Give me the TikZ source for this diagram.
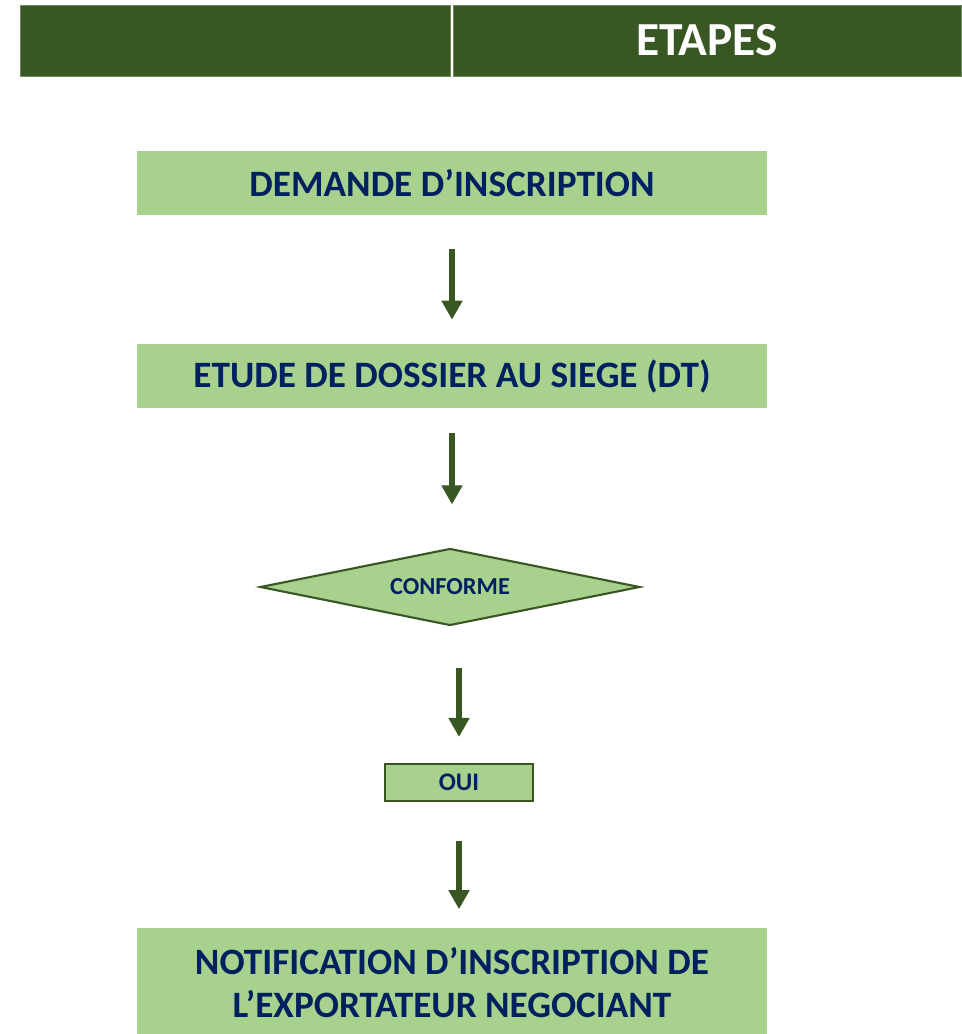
\documentclass[tikz,border=0pt]{standalone}
\usepackage{fontspec}
\setmainfont{Carlito}
\usepackage{tikz}
\definecolor{Vrt}{RGB}{56,87,35}
\definecolor{Vrt1}{RGB}{169,209,142}
\definecolor{Vrt2}{RGB}{110,140,90}
\definecolor{Blu}{RGB}{0,32,96}
\usetikzlibrary{shapes.geometric, arrows.meta, calc}

\tikzset{
    hdr/.style={fill=Vrt, draw=Vrt2, line width=0.4pt, minimum height=1.42cm,
                inner sep=0pt, text=white, font=\bfseries\fontsize{27}{32}\selectfont},
    etape/.style={fill=Vrt1, minimum width=12.6cm, minimum height=1.28cm,
                  text=Blu, align=center, font=\bfseries\fontsize{21.2}{24.5}\selectfont},
    fleche/.style={draw=Vrt, line width=0.12cm,
                   -{Triangle[length=0.38cm, width=0.4cm]}},
}

\begin{document}
\begin{tikzpicture}[x=0.02cm, y=-0.02cm]
    \useasboundingbox (0,0) rectangle (961,1034);

    % bandeau
    \node [hdr, minimum width=8.6cm] (hgauche) at (235,40.5) {};
    \node [hdr, minimum width=10.16cm] (hdroite) at (707,40.5) {ETAPES};

    % etapes
    \node [etape] (demande) at (452,183) {DEMANDE D’INSCRIPTION};
    \node [etape] (etude) at (452,376) {ETUDE DE DOSSIER AU SIEGE (DT)};
    \node [diamond, aspect=5, fill=Vrt1, draw=Vrt, line width=1.2pt, inner sep=0pt,
           minimum width=7.6cm, minimum height=1.54cm, text=Blu,
           font=\bfseries\fontsize{13.9}{16}\selectfont] (conforme) at (450,587) {CONFORME};
    \node [fill=Vrt1, draw=Vrt, line width=1.2pt, minimum width=2.96cm,
           minimum height=0.74cm, inner sep=0pt, text=Blu,
           font=\bfseries\fontsize{14.4}{16}\selectfont] (oui) at (459,782.5) {OUI};
    \node [etape, minimum height=2.22cm] (notif) at (452,983)
          {NOTIFICATION D’INSCRIPTION DE\\L’EXPORTATEUR NEGOCIANT};

    % fleches
    \draw [fleche, shorten <=0.68cm, shorten >=0.48cm] (demande) -- (etude);
    \draw [fleche, shorten <=0.5cm, shorten >=0.86cm] (etude.south) -- (etude.south |- conforme.north);
    \draw [fleche, shorten <=0.82cm, shorten >=0.52cm] (conforme.south -| oui) -- (oui.north);
    \draw [fleche, shorten <=0.78cm, shorten >=0.36cm] (oui.south) -- (oui.south |- notif.north);
\end{tikzpicture}
\end{document}
